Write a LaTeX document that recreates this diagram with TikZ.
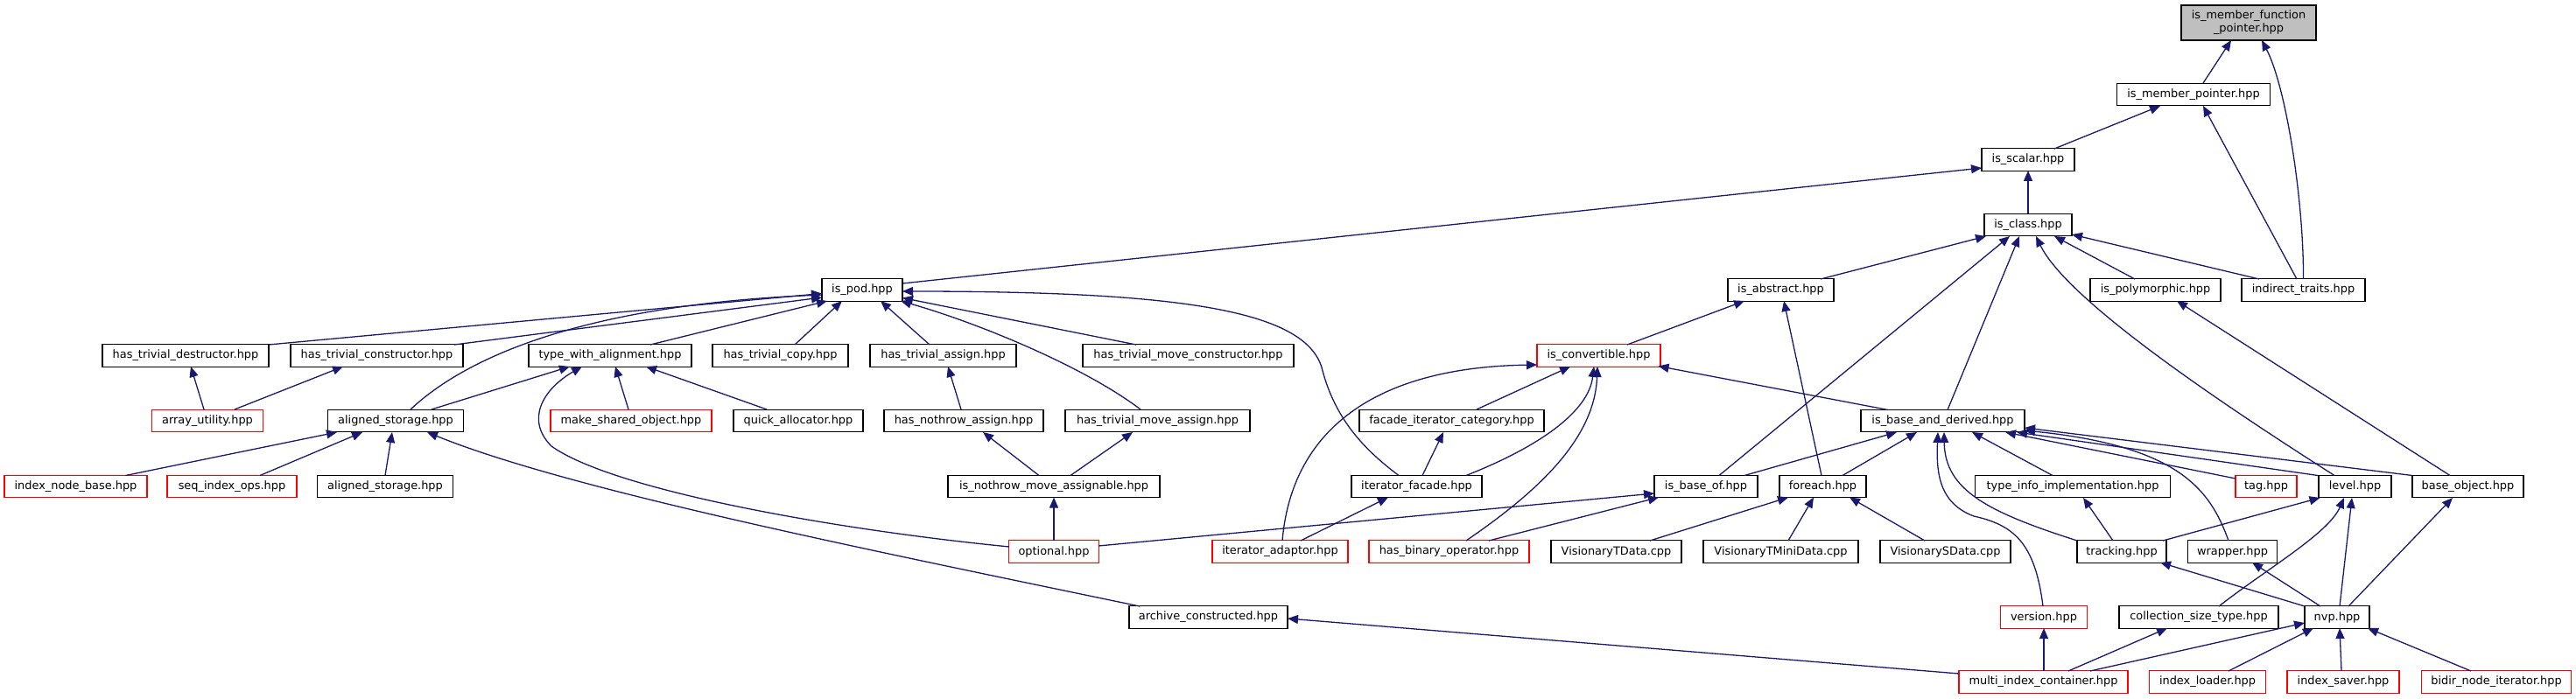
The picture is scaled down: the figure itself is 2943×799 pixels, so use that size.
\documentclass[tikz,border=0pt]{standalone}
\usepackage{fontspec}
\setmainfont{DejaVu Sans}
\usetikzlibrary{arrows.meta,calc}
\definecolor{edgecol}{HTML}{191970}
\definecolor{boxred}{HTML}{FF0000}
\definecolor{topfill}{HTML}{BFBFBF}
\begin{document}
\begin{tikzpicture}[x=1pt,y=-1pt,
  box/.style={draw=black, line width=1.2pt, fill=white, inner sep=0pt, minimum height=25.5pt,
    font=\fontsize{12.9pt}{15pt}\selectfont, text=black},
  rbox/.style={box, draw=boxred},
  dep/.style={draw=edgecol, line width=1.3pt, -{Triangle[length=12pt,width=10pt]}}]
\useasboundingbox (0,0) rectangle (2943,799);
% row 0-3
\node[box, fill=topfill, minimum width=154pt, minimum height=40pt, align=center] (mfp) at (2569,26) {is\_member\_function\\\_pointer.hpp};
\node[box, minimum width=175pt] (mp) at (2506,108) {is\_member\_pointer.hpp};
\node[box, minimum width=106pt] (scalar) at (2317,182.5) {is\_scalar.hpp};
\node[box, minimum width=100pt] (cls) at (2317,257) {is\_class.hpp};
% row 4
\node[box, minimum width=92pt] (pod) at (985,331.5) {is\_pod.hpp};
\node[box, minimum width=121pt] (abstract) at (2034.5,331.5) {is\_abstract.hpp};
\node[box, minimum width=149pt] (poly) at (2462.5,331.5) {is\_polymorphic.hpp};
\node[box, minimum width=141pt] (indirect) at (2631.5,331.5) {indirect\_traits.hpp};
% row 5
\node[box, minimum width=190pt] (htd) at (212,406.5) {has\_trivial\_destructor.hpp};
\node[box, minimum width=197pt] (htc) at (430.5,406.5) {has\_trivial\_constructor.hpp};
\node[box, minimum width=186pt] (twa) at (697,406.5) {type\_with\_alignment.hpp};
\node[box, minimum width=155pt] (htcopy) at (891.5,406.5) {has\_trivial\_copy.hpp};
\node[box, minimum width=167pt] (hta) at (1077.5,406.5) {has\_trivial\_assign.hpp};
\node[box, minimum width=241pt] (htmc) at (1357.5,406.5) {has\_trivial\_move\_constructor.hpp};
\node[rbox, minimum width=141pt] (conv) at (1826.5,406.5) {is\_convertible.hpp};
% row 6
\node[rbox, minimum width=127pt] (arr) at (237,481) {array\_utility.hpp};
\node[box, minimum width=155pt] (as1) at (452,481) {aligned\_storage.hpp};
\node[rbox, minimum width=184pt] (mso) at (721,481) {make\_shared\_object.hpp};
\node[box, minimum width=148pt] (qa) at (912,481) {quick\_allocator.hpp};
\node[box, minimum width=182pt] (hna) at (1101,481) {has\_nothrow\_assign.hpp};
\node[box, minimum width=211pt] (htma) at (1322.5,481) {has\_trivial\_move\_assign.hpp};
\node[box, minimum width=211pt] (fic) at (1658.5,481) {facade\_iterator\_category.hpp};
\node[box, minimum width=187pt] (iba) at (2219.5,481) {is\_base\_and\_derived.hpp};
% row 7
\node[rbox, minimum width=163pt] (inb) at (86.5,556) {index\_node\_base.hpp};
\node[rbox, minimum width=148pt] (sio) at (265,556) {seq\_index\_ops.hpp};
\node[box, minimum width=155pt] (as2) at (440,556) {aligned\_storage.hpp};
\node[box, minimum width=242pt] (inma) at (1204,556) {is\_nothrow\_move\_assignable.hpp};
\node[box, minimum width=149pt] (itf) at (1618.5,556) {iterator\_facade.hpp};
\node[box, minimum width=118pt] (ibo) at (1949,556) {is\_base\_of.hpp};
\node[box, minimum width=99pt] (fe) at (2082.5,556) {foreach.hpp};
\node[box, minimum width=223pt] (tii) at (2368,556) {type\_info\_implementation.hpp};
\node[rbox, minimum width=70pt] (tag) at (2589,556) {tag.hpp};
\node[box, minimum width=83pt] (level) at (2690.5,556) {level.hpp};
\node[box, minimum width=127pt] (bo) at (2819.5,556) {base\_object.hpp};
% row 8
\node[rbox, minimum width=102.5pt] (opt) at (1204,630.5) {optional.hpp};
\node[rbox, minimum width=155pt] (ita) at (1462.5,630.5) {iterator\_adaptor.hpp};
\node[rbox, minimum width=183pt] (hbo) at (1655.5,630.5) {has\_binary\_operator.hpp};
\node[box, minimum width=149pt] (vtd) at (1846.5,630.5) {VisionaryTData.cpp};
\node[box, minimum width=177pt] (vtmd) at (2034.5,630.5) {VisionaryTMiniData.cpp};
\node[box, minimum width=149pt] (vsd) at (2222.5,630.5) {VisionarySData.cpp};
\node[box, minimum width=102pt] (trk) at (2424,630.5) {tracking.hpp};
\node[box, minimum width=102pt] (wrp) at (2550.5,630.5) {wrapper.hpp};
% row 9
\node[box, minimum width=181pt] (ac) at (1380.5,705.5) {archive\_constructed.hpp};
\node[rbox, minimum width=98.5pt] (ver) at (2335,705.5) {version.hpp};
\node[box, minimum width=182pt] (cst) at (2512,705.5) {collection\_size\_type.hpp};
\node[box, minimum width=74pt] (nvp) at (2670,705.5) {nvp.hpp};
% row 10
\node[rbox, minimum width=193pt] (mic) at (2334.5,779.5) {multi\_index\_container.hpp};
\node[rbox, minimum width=133pt] (il) at (2522,779.5) {index\_loader.hpp};
\node[rbox, minimum width=128pt] (isv) at (2677,779.5) {index\_saver.hpp};
\node[rbox, minimum width=171pt] (bni) at (2852,779.5) {bidir\_node\_iterator.hpp};

% edges
\draw[dep] ($(mp)+(11,-13)$) -- ($(mfp)+(-20,20)$);
\draw[dep] ($(indirect)+(0,-12.5)$) .. controls (2632,230) and (2612,100) .. ($(mfp)+(15,20)$);
\draw[dep] ($(scalar)+(30,-12.5)$) -- ($(mp)+(-38,13)$);
\draw[dep] ($(indirect)+(-7.5,-12.5)$) -- ($(mp)+(11,13)$);
\draw[dep] ($(cls)+(0,-13)$) -- ($(scalar)+(0,12.5)$);
\draw[dep] ($(pod)+(46,-7.5)$) -- ($(scalar)+(-53,9.5)$);
\draw[dep] ($(abstract)+(45.5,-12.5)$) -- ($(cls)+(-48,13)$);
\draw[dep] ($(ibo)+(15,-12.5)$) -- ($(cls)+(-21,13)$);
\draw[dep] ($(iba)+(5.5,-12.5)$) -- ($(cls)+(-10,13)$);
\draw[dep] ($(level)+(-23.5,-12.5)$) .. controls (2520,450) and (2360,340) .. ($(cls)+(9,13)$);
\draw[dep] ($(poly)+(-23.5,-12.5)$) -- ($(cls)+(30,13)$);
\draw[dep] ($(indirect)+(-50.5,-12.5)$) -- ($(cls)+(50,11)$);
\draw[dep] ($(bo)+(-20.5,-12.5)$) -- ($(poly)+(24.5,12.5)$);
% is_pod
\draw[dep] ($(htd)+(95,-12.5)$) -- ($(pod)+(-46,4)$);
\draw[dep] ($(htc)+(88.5,-12.5)$) -- ($(pod)+(-46,8.5)$);
\draw[dep] ($(as1)+(17,-13)$) .. controls (520,420) and (640,350) .. ($(pod)+(-46,5.5)$);
\draw[dep] ($(twa)+(46,-12.5)$) -- ($(pod)+(-40,12.5)$);
\draw[dep] ($(htcopy)+(16.5,-12.5)$) -- ($(pod)+(-23,12.5)$);
\draw[dep] ($(hta)+(-15.5,-12.5)$) -- ($(pod)+(21,12.5)$);
\draw[dep] ($(htmc)+(-59.5,-12.5)$) -- ($(pod)+(46,9)$);
\draw[dep] ($(htma)+(-19.5,-13)$) .. controls (1240,420) and (1120,370) .. ($(pod)+(44,12.5)$);
\draw[dep] ($(itf)+(-20.5,-12.5)$) .. controls (1560,515) and (1525,480) .. (1510,420) .. controls (1490,355) and (1350,333) .. ($(pod)+(46,1.5)$);
% left part
\draw[dep] ($(arr)+(-4,-13)$) -- ($(htd)+(6,12.5)$);
\draw[dep] ($(arr)+(31,-13)$) -- ($(htc)+(-38.5,12.5)$);
\draw[dep] ($(as1)+(41,-13)$) -- ($(twa)+(-46,12.5)$);
\draw[dep] ($(opt)+(-51,-5.5)$) .. controls (950,605) and (700,560) .. (630,510) .. controls (600,480) and (620,445) .. ($(twa)+(-32,12.5)$);
\draw[dep] ($(mso)+(-3,-13)$) -- ($(twa)+(6,12.5)$);
\draw[dep] ($(qa)+(-36,-13)$) -- ($(twa)+(41,12.5)$);
\draw[dep] ($(inb)+(57,-12.5)$) -- ($(as1)+(-67,13)$);
\draw[dep] ($(sio)+(32,-12.5)$) -- ($(as1)+(-38,13)$);
\draw[dep] ($(as2)+(0,-12.5)$) -- ($(as1)+(-4,13)$);
\draw[dep] ($(ac)+(-78.5,-12.5)$) .. controls (1000,630) and (650,560) .. ($(as1)+(36,13)$);
\draw[dep] ($(hna)+(-3,-13)$) -- ($(hta)+(5.5,12.5)$);
\draw[dep] ($(inma)+(-17,-12.5)$) -- ($(hna)+(22,13)$);
\draw[dep] ($(inma)+(19,-12.5)$) -- ($(htma)+(-28.5,13)$);
\draw[dep] ($(opt)+(0,-12.5)$) -- ($(inma)+(0,12.5)$);
\draw[dep] ($(opt)+(51,-6.5)$) -- ($(ibo)+(-59,8)$);
% middle
\draw[dep] ($(ita)+(23.5,-12.5)$) -- ($(itf)+(-32.5,12.5)$);
\draw[dep] ($(ita)+(2.5,-12.5)$) .. controls (1475,500) and (1560,420) .. ($(conv)+(-70.5,10.5)$);
\draw[dep] ($(fic)+(28.5,-13)$) -- ($(conv)+(-32.5,12.5)$);
\draw[dep] ($(itf)+(56.5,-12.5)$) .. controls (1760,510) and (1815,470) .. ($(conv)+(-5.5,12.5)$);
\draw[dep] ($(hbo)+(19.5,-12.5)$) .. controls (1760,560) and (1822,500) .. ($(conv)+(-1.5,12.5)$);
\draw[dep] ($(iba)+(-62.5,-12.5)$) -- ($(conv)+(68,12)$);
\draw[dep] ($(itf)+(6.5,-12.5)$) -- ($(fic)+(-9.5,13)$);
\draw[dep] ($(conv)+(32.5,-12.5)$) -- ($(abstract)+(-41.5,12.5)$);
\draw[dep] ($(fe)+(-1.5,-12.5)$) -- ($(abstract)+(3.5,12.5)$);
\draw[dep] ($(ibo)+(44,-12.5)$) -- ($(iba)+(-52.5,13)$);
\draw[dep] ($(fe)+(22.5,-12.5)$) -- ($(iba)+(-29.5,13)$);
\draw[dep] ($(ver)+(-1,-12.5)$) .. controls (2325,620) and (2300,600) .. (2255,590) .. controls (2215,575) and (2212,540) .. ($(iba)+(-5.5,13)$);
\draw[dep] ($(trk)+(-51,-12.5)$) .. controls (2270,585) and (2222,560) .. ($(iba)+(1.5,13)$);
\draw[dep] ($(tii)+(-23,-12.5)$) -- ($(iba)+(33.5,13)$);
\draw[dep] ($(tag)+(-35,-9)$) -- ($(iba)+(71.5,13)$);
\draw[dep] ($(level)+(-42.5,-12.5)$) -- ($(iba)+(84.5,13)$);
\draw[dep] ($(wrp)+(-4.5,-12.5)$) .. controls (2525,560) and (2490,510) .. ($(iba)+(93.5,11)$);
\draw[dep] ($(bo)+(-63.5,-12.5)$) -- ($(iba)+(93.5,8)$);
\draw[dep] ($(vtd)+(38.5,-12.5)$) -- ($(fe)+(-39.5,12.5)$);
\draw[dep] ($(vtmd)+(8.5,-12.5)$) -- ($(fe)+(-10.5,12.5)$);
\draw[dep] ($(vsd)+(-23.5,-12.5)$) -- ($(fe)+(30.5,12.5)$);
\draw[dep] ($(hbo)+(45.5,-12.5)$) -- ($(ibo)+(-54,12.5)$);
% right bottom
\draw[dep] ($(trk)+(-10,-12.5)$) -- ($(tii)+(12,13)$);
\draw[dep] ($(trk)+(47,-12.5)$) -- ($(level)+(-40,13)$);
\draw[dep] ($(cst)+(23,-12.5)$) .. controls (2590,650) and (2660,610) .. ($(level)+(-12.5,13)$);
\draw[dep] ($(nvp)+(3,-12.5)$) -- ($(level)+(-3.5,13)$);
\draw[dep] ($(nvp)+(13,-12.5)$) -- ($(bo)+(-17.5,13)$);
\draw[dep] ($(nvp)+(-37,-12.5)$) -- ($(trk)+(44,12.5)$);
\draw[dep] ($(nvp)+(-19,-12.5)$) -- ($(wrp)+(22.5,12.5)$);
\draw[dep] ($(mic)+(0.5,-12.5)$) -- ($(ver)+(0,12.5)$);
\draw[dep] ($(mic)+(28.5,-12.5)$) -- ($(cst)+(-36,12.5)$);
\draw[dep] ($(mic)+(53.5,-12.5)$) -- ($(nvp)+(-37,6.5)$);
\draw[dep] ($(il)+(24,-12.5)$) -- ($(nvp)+(-27,12.5)$);
\draw[dep] ($(isv)+(-2,-12.5)$) -- ($(nvp)+(3,12.5)$);
\draw[dep] ($(bni)+(-29,-12.5)$) -- ($(nvp)+(35,12.5)$);
\draw[dep] ($(mic)+(-96.5,-9.5)$) -- ($(ac)+(90.5,1.5)$);
\end{tikzpicture}
\end{document}
